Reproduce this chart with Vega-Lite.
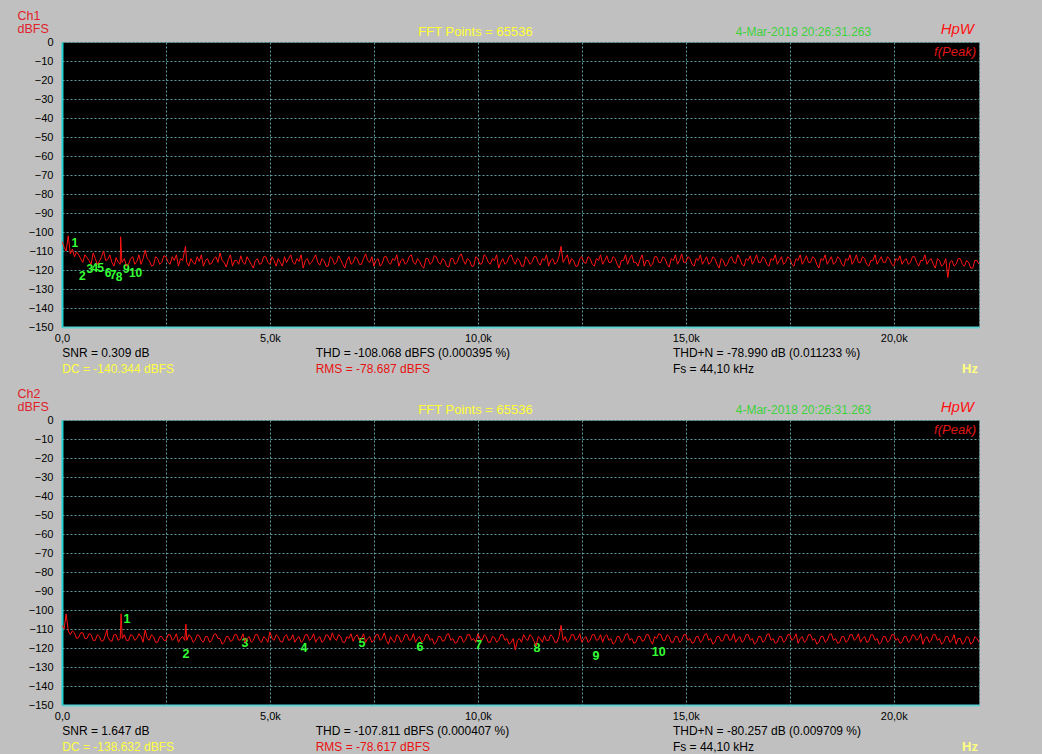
{
"$schema": "https://vega.github.io/schema/vega-lite/v6.json",
"background": "#c0c0c0",
"padding": {"left": 16, "top": 8, "right": 62, "bottom": 5},
"spacing": 93,
"bounds": "flush",
"datasets": {
"ch1": [{"f":0,"a":-105},{"f":50,"a":-108},{"f":100,"a":-110},{"f":150,"a":-102},{"f":200,"a":-111.5},{"f":250,"a":-109},{"f":300,"a":-113},{"f":350,"a":-110.5},{"f":400,"a":-112},{"f":450,"a":-114},{"f":500,"a":-116},{"f":550,"a":-112},{"f":600,"a":-113.5},{"f":650,"a":-115},{"f":700,"a":-117},{"f":750,"a":-111},{"f":800,"a":-114},{"f":850,"a":-117},{"f":900,"a":-115.5},{"f":950,"a":-113},
{"f":1000,"a":-110},{"f":1050,"a":-115},{"f":1100,"a":-114.5},{"f":1150,"a":-112},{"f":1200,"a":-116},{"f":1250,"a":-118},{"f":1300,"a":-113.5},{"f":1350,"a":-116},{"f":1400,"a":-117},{"f":1410,"a":-102.5},{"f":1440,"a":-116},{"f":1500,"a":-114},{"f":1550,"a":-118},{"f":1600,"a":-117},{"f":1650,"a":-114},{"f":1700,"a":-113},{"f":1750,"a":-117},{"f":1800,"a":-115.5},{"f":1850,"a":-112},{"f":1900,"a":-117},{"f":1950,"a":-114},
{"f":2000,"a":-109.5},{"f":2050,"a":-114},{"f":2100,"a":-115},{"f":2150,"a":-118},{"f":2200,"a":-117.5},{"f":2250,"a":-113},{"f":2300,"a":-114},{"f":2350,"a":-117},{"f":2400,"a":-116},{"f":2450,"a":-112.5},{"f":2500,"a":-113},{"f":2550,"a":-116},{"f":2600,"a":-117},{"f":2650,"a":-113},{"f":2700,"a":-115},{"f":2750,"a":-112},{"f":2800,"a":-118},{"f":2850,"a":-114},{"f":2900,"a":-115},{"f":2970,"a":-107.5},{"f":3000,"a":-116},{"f":3050,"a":-118},
{"f":3100,"a":-114},{"f":3150,"a":-116},{"f":3200,"a":-117},{"f":3250,"a":-113},{"f":3300,"a":-115.5},{"f":3350,"a":-112},{"f":3400,"a":-118},{"f":3450,"a":-115},{"f":3500,"a":-114},{"f":3550,"a":-117},{"f":3600,"a":-116.5},{"f":3650,"a":-114},{"f":3700,"a":-113},{"f":3750,"a":-116},{"f":3800,"a":-111},{"f":3850,"a":-115},{"f":3900,"a":-116},{"f":3950,"a":-118.5},
{"f":4000,"a":-114.5},{"f":4050,"a":-112},{"f":4100,"a":-118},{"f":4150,"a":-115},{"f":4200,"a":-115},{"f":4250,"a":-117},{"f":4300,"a":-112.5},{"f":4350,"a":-116},{"f":4400,"a":-117},{"f":4450,"a":-113},{"f":4500,"a":-115},{"f":4550,"a":-117},{"f":4600,"a":-119},{"f":4650,"a":-115},{"f":4700,"a":-114},{"f":4750,"a":-117},{"f":4800,"a":-116.5},{"f":4850,"a":-113},{"f":4900,"a":-113},{"f":4950,"a":-116},
{"f":5000,"a":-117},{"f":5050,"a":-113},{"f":5100,"a":-115},{"f":5150,"a":-118},{"f":5200,"a":-114},{"f":5250,"a":-116},{"f":5300,"a":-118},{"f":5350,"a":-113},{"f":5400,"a":-116},{"f":5450,"a":-114},{"f":5500,"a":-112},{"f":5550,"a":-116},{"f":5600,"a":-117},{"f":5650,"a":-114},{"f":5700,"a":-115.5},{"f":5750,"a":-112},{"f":5800,"a":-119},{"f":5850,"a":-115},{"f":5900,"a":-114},{"f":5950,"a":-117},
{"f":6000,"a":-116},{"f":6050,"a":-114},{"f":6100,"a":-112},{"f":6150,"a":-116},{"f":6200,"a":-117.5},{"f":6250,"a":-114},{"f":6300,"a":-115},{"f":6350,"a":-118},{"f":6400,"a":-118},{"f":6450,"a":-113},{"f":6500,"a":-114},{"f":6550,"a":-117},{"f":6600,"a":-116},{"f":6650,"a":-112.5},{"f":6700,"a":-114.5},{"f":6750,"a":-117},{"f":6800,"a":-119},{"f":6850,"a":-115},{"f":6900,"a":-113},{"f":6950,"a":-117},
{"f":7000,"a":-116},{"f":7050,"a":-113},{"f":7100,"a":-114},{"f":7150,"a":-117},{"f":7200,"a":-117},{"f":7250,"a":-114},{"f":7300,"a":-111.5},{"f":7350,"a":-115},{"f":7400,"a":-116},{"f":7450,"a":-113},{"f":7500,"a":-118},{"f":7550,"a":-115},{"f":7600,"a":-114},{"f":7650,"a":-118},{"f":7700,"a":-116.5},{"f":7750,"a":-113},{"f":7800,"a":-113},{"f":7850,"a":-116},{"f":7900,"a":-117},{"f":7950,"a":-114},
{"f":8000,"a":-115},{"f":8050,"a":-112},{"f":8100,"a":-118},{"f":8150,"a":-115},{"f":8200,"a":-114},{"f":8250,"a":-117},{"f":8300,"a":-116},{"f":8350,"a":-113},{"f":8400,"a":-112},{"f":8450,"a":-116},{"f":8500,"a":-117},{"f":8550,"a":-114},{"f":8600,"a":-115.5},{"f":8650,"a":-118},{"f":8700,"a":-119},{"f":8750,"a":-114},{"f":8800,"a":-114},{"f":8850,"a":-117},{"f":8900,"a":-116},{"f":8950,"a":-112.5},
{"f":9000,"a":-113},{"f":9050,"a":-116},{"f":9100,"a":-117},{"f":9150,"a":-114},{"f":9200,"a":-115},{"f":9250,"a":-118},{"f":9300,"a":-118.5},{"f":9350,"a":-114},{"f":9400,"a":-114},{"f":9450,"a":-117},{"f":9500,"a":-116},{"f":9550,"a":-113},{"f":9600,"a":-111.5},{"f":9650,"a":-115},{"f":9700,"a":-117},{"f":9750,"a":-114},{"f":9800,"a":-115},{"f":9850,"a":-118},{"f":9900,"a":-118},{"f":9950,"a":-113},
{"f":10000,"a":-114},{"f":10050,"a":-117},{"f":10100,"a":-116.5},{"f":10150,"a":-112},{"f":10200,"a":-113},{"f":10250,"a":-116},{"f":10300,"a":-117},{"f":10350,"a":-114},{"f":10400,"a":-115},{"f":10450,"a":-112},{"f":10500,"a":-119},{"f":10550,"a":-116},{"f":10600,"a":-114},{"f":10650,"a":-117},{"f":10700,"a":-116},{"f":10750,"a":-113},{"f":10800,"a":-112},{"f":10850,"a":-115},{"f":10900,"a":-117},{"f":10950,"a":-114},
{"f":11000,"a":-115},{"f":11050,"a":-118},{"f":11100,"a":-118},{"f":11150,"a":-113},{"f":11200,"a":-114.5},{"f":11250,"a":-117},{"f":11300,"a":-116},{"f":11350,"a":-113},{"f":11400,"a":-113},{"f":11450,"a":-116},{"f":11500,"a":-117.5},{"f":11550,"a":-114},{"f":11600,"a":-115},{"f":11650,"a":-112},{"f":11700,"a":-118},{"f":11750,"a":-115},{"f":11800,"a":-114},{"f":11850,"a":-117},{"f":11900,"a":-116},{"f":11950,"a":-113},
{"f":12000,"a":-107.5},{"f":12050,"a":-116},{"f":12100,"a":-114},{"f":12150,"a":-112},{"f":12200,"a":-117},{"f":12250,"a":-114},{"f":12300,"a":-115},{"f":12350,"a":-118},{"f":12400,"a":-118},{"f":12450,"a":-114},{"f":12500,"a":-113},{"f":12550,"a":-116},{"f":12600,"a":-116.5},{"f":12650,"a":-113},{"f":12700,"a":-114},{"f":12750,"a":-117},{"f":12800,"a":-118},{"f":12850,"a":-114},{"f":12900,"a":-115},{"f":12950,"a":-112},
{"f":13000,"a":-117},{"f":13050,"a":-115},{"f":13100,"a":-112.5},{"f":13150,"a":-116},{"f":13200,"a":-116},{"f":13250,"a":-113},{"f":13300,"a":-114},{"f":13350,"a":-117},{"f":13400,"a":-119},{"f":13450,"a":-115},{"f":13500,"a":-115},{"f":13550,"a":-112},{"f":13600,"a":-117},{"f":13650,"a":-114},{"f":13700,"a":-112},{"f":13750,"a":-116},{"f":13800,"a":-116},{"f":13850,"a":-118},{"f":13900,"a":-114.5},{"f":13950,"a":-112},
{"f":14000,"a":-118},{"f":14050,"a":-115},{"f":14100,"a":-115},{"f":14150,"a":-118},{"f":14200,"a":-117},{"f":14250,"a":-113},{"f":14300,"a":-113},{"f":14350,"a":-116},{"f":14400,"a":-116},{"f":14450,"a":-113},{"f":14500,"a":-114},{"f":14550,"a":-117},{"f":14600,"a":-118.5},{"f":14650,"a":-114},{"f":14700,"a":-115},{"f":14750,"a":-112},{"f":14800,"a":-117},{"f":14850,"a":-115},{"f":14900,"a":-111.5},{"f":14950,"a":-116},
{"f":15000,"a":-116},{"f":15050,"a":-113},{"f":15100,"a":-114},{"f":15150,"a":-117},{"f":15200,"a":-118},{"f":15250,"a":-114},{"f":15300,"a":-115},{"f":15350,"a":-112},{"f":15400,"a":-117},{"f":15450,"a":-115},{"f":15500,"a":-113},{"f":15550,"a":-117},{"f":15600,"a":-116},{"f":15650,"a":-113},{"f":15700,"a":-114},{"f":15750,"a":-117},{"f":15800,"a":-119},{"f":15850,"a":-114},{"f":15900,"a":-115},{"f":15950,"a":-118},
{"f":16000,"a":-117},{"f":16050,"a":-114},{"f":16100,"a":-113},{"f":16150,"a":-116},{"f":16200,"a":-116.5},{"f":16250,"a":-112},{"f":16300,"a":-114},{"f":16350,"a":-117},{"f":16400,"a":-118},{"f":16450,"a":-114},{"f":16500,"a":-115},{"f":16550,"a":-112.5},{"f":16600,"a":-117},{"f":16650,"a":-115},{"f":16700,"a":-112},{"f":16750,"a":-116},{"f":16800,"a":-116},{"f":16850,"a":-113},{"f":16900,"a":-114},{"f":16950,"a":-117},
{"f":17000,"a":-118},{"f":17050,"a":-114},{"f":17100,"a":-115},{"f":17150,"a":-112},{"f":17200,"a":-117},{"f":17250,"a":-115},{"f":17300,"a":-113},{"f":17350,"a":-117},{"f":17400,"a":-116},{"f":17450,"a":-113},{"f":17500,"a":-114},{"f":17550,"a":-117},{"f":17600,"a":-118},{"f":17650,"a":-114},{"f":17700,"a":-115},{"f":17750,"a":-112},{"f":17800,"a":-117},{"f":17850,"a":-115},{"f":17900,"a":-112.5},{"f":17950,"a":-116},
{"f":18000,"a":-116},{"f":18050,"a":-113},{"f":18100,"a":-114},{"f":18150,"a":-117},{"f":18200,"a":-119},{"f":18250,"a":-114},{"f":18300,"a":-115},{"f":18350,"a":-112},{"f":18400,"a":-117},{"f":18450,"a":-115},{"f":18500,"a":-113},{"f":18550,"a":-117},{"f":18600,"a":-116},{"f":18650,"a":-113},{"f":18700,"a":-114},{"f":18750,"a":-117},{"f":18800,"a":-118},{"f":18850,"a":-114},{"f":18900,"a":-115},{"f":18950,"a":-112},
{"f":19000,"a":-117},{"f":19050,"a":-115},{"f":19100,"a":-112},{"f":19150,"a":-116},{"f":19200,"a":-116},{"f":19250,"a":-113},{"f":19300,"a":-114},{"f":19350,"a":-117},{"f":19400,"a":-118},{"f":19450,"a":-115},{"f":19500,"a":-115},{"f":19550,"a":-112},{"f":19600,"a":-117},{"f":19650,"a":-115},{"f":19700,"a":-113},{"f":19750,"a":-116},{"f":19800,"a":-116},{"f":19850,"a":-113},{"f":19900,"a":-114},{"f":19950,"a":-117},
{"f":20000,"a":-118},{"f":20050,"a":-114},{"f":20100,"a":-115},{"f":20150,"a":-112.5},{"f":20200,"a":-117},{"f":20250,"a":-115},{"f":20300,"a":-114},{"f":20350,"a":-117},{"f":20400,"a":-116},{"f":20450,"a":-113},{"f":20500,"a":-113},{"f":20550,"a":-116},{"f":20600,"a":-118},{"f":20650,"a":-115},{"f":20700,"a":-115},{"f":20750,"a":-112},{"f":20800,"a":-117},{"f":20850,"a":-115},{"f":20900,"a":-114},{"f":20950,"a":-117},
{"f":21000,"a":-119},{"f":21050,"a":-114},{"f":21100,"a":-115},{"f":21150,"a":-118},{"f":21200,"a":-117},{"f":21250,"a":-114},{"f":21300,"a":-124},{"f":21350,"a":-116},{"f":21400,"a":-115},{"f":21450,"a":-118},{"f":21500,"a":-117},{"f":21550,"a":-114},{"f":21600,"a":-114},{"f":21650,"a":-117},{"f":21700,"a":-118},{"f":21750,"a":-115},{"f":21800,"a":-116},{"f":21850,"a":-119},{"f":21900,"a":-119},{"f":21950,"a":-115},
{"f":22000,"a":-115},{"f":22050,"a":-117}],
"ch2": [{"f":0,"a":-108},{"f":50,"a":-110},{"f":100,"a":-102},{"f":150,"a":-111},{"f":200,"a":-113},{"f":250,"a":-111},{"f":300,"a":-112},{"f":350,"a":-115},{"f":400,"a":-114.5},{"f":450,"a":-112},{"f":500,"a":-112},{"f":550,"a":-115},{"f":600,"a":-115},{"f":650,"a":-112.5},{"f":700,"a":-113},{"f":750,"a":-116},{"f":800,"a":-116},{"f":850,"a":-113},{"f":900,"a":-114},{"f":950,"a":-116.5},
{"f":1000,"a":-116},{"f":1080,"a":-110.5},{"f":1100,"a":-114},{"f":1150,"a":-116},{"f":1200,"a":-116.5},{"f":1250,"a":-113},{"f":1300,"a":-113},{"f":1350,"a":-116},{"f":1400,"a":-115},{"f":1420,"a":-102},{"f":1450,"a":-115},{"f":1500,"a":-113},{"f":1550,"a":-116},{"f":1600,"a":-116},{"f":1650,"a":-113},{"f":1700,"a":-113.5},{"f":1750,"a":-116},{"f":1800,"a":-115},{"f":1850,"a":-112.5},{"f":1900,"a":-114},{"f":1950,"a":-117},
{"f":2000,"a":-110.5},{"f":2050,"a":-115},{"f":2100,"a":-116},{"f":2150,"a":-113},{"f":2200,"a":-114},{"f":2250,"a":-117},{"f":2300,"a":-117},{"f":2350,"a":-114},{"f":2400,"a":-114},{"f":2450,"a":-116},{"f":2500,"a":-116},{"f":2550,"a":-113},{"f":2600,"a":-113},{"f":2650,"a":-116},{"f":2700,"a":-115},{"f":2750,"a":-112.5},{"f":2800,"a":-117},{"f":2850,"a":-115},{"f":2900,"a":-114},{"f":2950,"a":-116},{"f":2980,"a":-107.5},{"f":3000,"a":-116},{"f":3050,"a":-113},
{"f":3100,"a":-114},{"f":3150,"a":-117},{"f":3200,"a":-116},{"f":3250,"a":-113},{"f":3300,"a":-113.5},{"f":3350,"a":-116},{"f":3400,"a":-117},{"f":3450,"a":-114},{"f":3500,"a":-114},{"f":3550,"a":-117},{"f":3600,"a":-116},{"f":3650,"a":-113},{"f":3700,"a":-112.5},{"f":3750,"a":-115},{"f":3800,"a":-115},{"f":3850,"a":-118},{"f":3900,"a":-117},{"f":3950,"a":-114},
{"f":4000,"a":-114},{"f":4050,"a":-116.5},{"f":4100,"a":-116},{"f":4150,"a":-113},{"f":4200,"a":-113},{"f":4250,"a":-116},{"f":4300,"a":-115.5},{"f":4350,"a":-112.5},{"f":4400,"a":-117},{"f":4450,"a":-115},{"f":4500,"a":-114},{"f":4550,"a":-117},{"f":4600,"a":-116},{"f":4650,"a":-113},{"f":4700,"a":-113},{"f":4750,"a":-116},{"f":4800,"a":-117},{"f":4850,"a":-114},{"f":4900,"a":-115},{"f":4950,"a":-117},
{"f":5000,"a":-111.5},{"f":5050,"a":-115},{"f":5100,"a":-116},{"f":5150,"a":-113},{"f":5200,"a":-114},{"f":5250,"a":-116.5},{"f":5300,"a":-117},{"f":5350,"a":-114},{"f":5400,"a":-113},{"f":5450,"a":-116},{"f":5500,"a":-115.5},{"f":5550,"a":-113},{"f":5600,"a":-117},{"f":5650,"a":-115},{"f":5700,"a":-114},{"f":5750,"a":-117},{"f":5800,"a":-116},{"f":5850,"a":-113},{"f":5900,"a":-113},{"f":5950,"a":-116},
{"f":6000,"a":-115},{"f":6050,"a":-112.5},{"f":6100,"a":-117},{"f":6150,"a":-115},{"f":6200,"a":-114},{"f":6250,"a":-117},{"f":6300,"a":-116},{"f":6350,"a":-113},{"f":6400,"a":-113.5},{"f":6450,"a":-116},{"f":6500,"a":-112},{"f":6550,"a":-115},{"f":6600,"a":-116},{"f":6650,"a":-113},{"f":6700,"a":-114},{"f":6750,"a":-117},{"f":6800,"a":-117},{"f":6850,"a":-114},{"f":6900,"a":-115},{"f":6950,"a":-112.5},
{"f":7000,"a":-116.5},{"f":7050,"a":-114},{"f":7100,"a":-113},{"f":7150,"a":-116},{"f":7200,"a":-115},{"f":7250,"a":-112.5},{"f":7300,"a":-117},{"f":7350,"a":-115},{"f":7400,"a":-114},{"f":7450,"a":-117},{"f":7500,"a":-116},{"f":7550,"a":-113},{"f":7600,"a":-113},{"f":7650,"a":-116},{"f":7700,"a":-115},{"f":7750,"a":-112},{"f":7800,"a":-116},{"f":7850,"a":-118},{"f":7900,"a":-114},{"f":7950,"a":-116},
{"f":8000,"a":-117},{"f":8050,"a":-113},{"f":8100,"a":-114},{"f":8150,"a":-117},{"f":8200,"a":-116},{"f":8250,"a":-113},{"f":8300,"a":-113},{"f":8350,"a":-116},{"f":8400,"a":-115.5},{"f":8450,"a":-112.5},{"f":8500,"a":-117},{"f":8550,"a":-115},{"f":8600,"a":-114},{"f":8650,"a":-117},{"f":8700,"a":-116},{"f":8750,"a":-113},{"f":8800,"a":-113},{"f":8850,"a":-116},{"f":8900,"a":-115},{"f":8950,"a":-118},
{"f":9000,"a":-117},{"f":9050,"a":-114},{"f":9100,"a":-114},{"f":9150,"a":-116.5},{"f":9200,"a":-116},{"f":9250,"a":-113},{"f":9300,"a":-112.5},{"f":9350,"a":-116},{"f":9400,"a":-115},{"f":9450,"a":-117.5},{"f":9500,"a":-117},{"f":9550,"a":-114},{"f":9600,"a":-114},{"f":9650,"a":-117},{"f":9700,"a":-116},{"f":9750,"a":-113},{"f":9800,"a":-113},{"f":9850,"a":-116},{"f":9900,"a":-115},{"f":9950,"a":-117},
{"f":10000,"a":-112.5},{"f":10050,"a":-115},{"f":10100,"a":-116},{"f":10150,"a":-113},{"f":10200,"a":-114},{"f":10250,"a":-117},{"f":10300,"a":-117},{"f":10350,"a":-114},{"f":10400,"a":-114.5},{"f":10450,"a":-117},{"f":10500,"a":-116},{"f":10550,"a":-113},{"f":10600,"a":-113},{"f":10650,"a":-116},{"f":10700,"a":-115},{"f":10750,"a":-118},{"f":10800,"a":-117},{"f":10850,"a":-115},{"f":10900,"a":-121},{"f":10950,"a":-116},
{"f":11000,"a":-115},{"f":11050,"a":-117},{"f":11100,"a":-113},{"f":11150,"a":-115},{"f":11200,"a":-116},{"f":11250,"a":-113},{"f":11300,"a":-114},{"f":11350,"a":-116.5},{"f":11400,"a":-119},{"f":11450,"a":-114},{"f":11500,"a":-115},{"f":11550,"a":-117},{"f":11600,"a":-113.5},{"f":11650,"a":-116},{"f":11700,"a":-116},{"f":11750,"a":-113},{"f":11800,"a":-114},{"f":11850,"a":-117},{"f":11900,"a":-117},{"f":11950,"a":-114},
{"f":12000,"a":-108},{"f":12050,"a":-116},{"f":12100,"a":-114},{"f":12150,"a":-117},{"f":12200,"a":-116},{"f":12250,"a":-113},{"f":12300,"a":-113},{"f":12350,"a":-116},{"f":12400,"a":-115},{"f":12450,"a":-112.5},{"f":12500,"a":-117},{"f":12550,"a":-115},{"f":12600,"a":-114},{"f":12650,"a":-117},{"f":12700,"a":-116},{"f":12750,"a":-113},{"f":12800,"a":-113},{"f":12850,"a":-116},{"f":12900,"a":-115.5},{"f":12950,"a":-113},
{"f":13000,"a":-117},{"f":13050,"a":-114},{"f":13100,"a":-113},{"f":13150,"a":-116},{"f":13200,"a":-115},{"f":13250,"a":-118},{"f":13300,"a":-117},{"f":13350,"a":-114},{"f":13400,"a":-114},{"f":13450,"a":-117},{"f":13500,"a":-116},{"f":13550,"a":-113},{"f":13600,"a":-112.5},{"f":13650,"a":-116},{"f":13700,"a":-115},{"f":13750,"a":-117.5},{"f":13800,"a":-117},{"f":13850,"a":-114},{"f":13900,"a":-114},{"f":13950,"a":-116.5},
{"f":14000,"a":-116},{"f":14050,"a":-113},{"f":14100,"a":-113},{"f":14150,"a":-116},{"f":14200,"a":-118},{"f":14250,"a":-114},{"f":14300,"a":-115},{"f":14350,"a":-112.5},{"f":14400,"a":-113},{"f":14450,"a":-116},{"f":14500,"a":-116},{"f":14550,"a":-113},{"f":14600,"a":-114},{"f":14650,"a":-117},{"f":14700,"a":-117},{"f":14750,"a":-114},{"f":14800,"a":-114},{"f":14850,"a":-117},{"f":14900,"a":-116},{"f":14950,"a":-113},
{"f":15000,"a":-113},{"f":15050,"a":-116},{"f":15100,"a":-115},{"f":15150,"a":-117.5},{"f":15200,"a":-117},{"f":15250,"a":-114},{"f":15300,"a":-114},{"f":15350,"a":-117},{"f":15400,"a":-116},{"f":15450,"a":-113},{"f":15500,"a":-112.5},{"f":15550,"a":-116},{"f":15600,"a":-115},{"f":15650,"a":-118},{"f":15700,"a":-117},{"f":15750,"a":-114},{"f":15800,"a":-114},{"f":15850,"a":-116.5},{"f":15900,"a":-116},{"f":15950,"a":-113},
{"f":16000,"a":-113},{"f":16050,"a":-116},{"f":16100,"a":-115.5},{"f":16150,"a":-112.5},{"f":16200,"a":-117},{"f":16250,"a":-115},{"f":16300,"a":-114},{"f":16350,"a":-117},{"f":16400,"a":-116},{"f":16450,"a":-113},{"f":16500,"a":-113},{"f":16550,"a":-116},{"f":16600,"a":-115},{"f":16650,"a":-118},{"f":16700,"a":-117},{"f":16750,"a":-114},{"f":16800,"a":-114},{"f":16850,"a":-117},{"f":16900,"a":-116},{"f":16950,"a":-113},
{"f":17000,"a":-112.5},{"f":17050,"a":-116},{"f":17100,"a":-115},{"f":17150,"a":-117.5},{"f":17200,"a":-117},{"f":17250,"a":-114},{"f":17300,"a":-114},{"f":17350,"a":-117},{"f":17400,"a":-116},{"f":17450,"a":-113},{"f":17500,"a":-113},{"f":17550,"a":-116},{"f":17600,"a":-115},{"f":17650,"a":-112.5},{"f":17700,"a":-117.5},{"f":17750,"a":-115},{"f":17800,"a":-114},{"f":17850,"a":-117},{"f":17900,"a":-116},{"f":17950,"a":-113},
{"f":18000,"a":-113},{"f":18050,"a":-116},{"f":18100,"a":-115},{"f":18150,"a":-118},{"f":18200,"a":-117},{"f":18250,"a":-114},{"f":18300,"a":-114},{"f":18350,"a":-117},{"f":18400,"a":-116},{"f":18450,"a":-113},{"f":18500,"a":-112.5},{"f":18550,"a":-116},{"f":18600,"a":-115},{"f":18650,"a":-117.5},{"f":18700,"a":-117},{"f":18750,"a":-114},{"f":18800,"a":-114},{"f":18850,"a":-117},{"f":18900,"a":-116},{"f":18950,"a":-113},
{"f":19000,"a":-113},{"f":19050,"a":-116},{"f":19100,"a":-115},{"f":19150,"a":-112.5},{"f":19200,"a":-117},{"f":19250,"a":-115},{"f":19300,"a":-114},{"f":19350,"a":-117},{"f":19400,"a":-116.5},{"f":19450,"a":-113},{"f":19500,"a":-113},{"f":19550,"a":-116},{"f":19600,"a":-115},{"f":19650,"a":-118},{"f":19700,"a":-117},{"f":19750,"a":-114},{"f":19800,"a":-114},{"f":19850,"a":-117},{"f":19900,"a":-116},{"f":19950,"a":-113},
{"f":20000,"a":-113},{"f":20050,"a":-116},{"f":20100,"a":-115},{"f":20150,"a":-117.5},{"f":20200,"a":-117},{"f":20250,"a":-114},{"f":20300,"a":-114},{"f":20350,"a":-117},{"f":20400,"a":-116},{"f":20450,"a":-113},{"f":20500,"a":-113.5},{"f":20550,"a":-116},{"f":20600,"a":-115},{"f":20650,"a":-112.5},{"f":20700,"a":-118},{"f":20750,"a":-115},{"f":20800,"a":-114},{"f":20850,"a":-117},{"f":20900,"a":-116},{"f":20950,"a":-113},
{"f":21000,"a":-113},{"f":21050,"a":-116},{"f":21100,"a":-115},{"f":21150,"a":-118},{"f":21200,"a":-117},{"f":21250,"a":-114},{"f":21300,"a":-114},{"f":21350,"a":-117},{"f":21400,"a":-116},{"f":21450,"a":-113},{"f":21500,"a":-118},{"f":21550,"a":-115},{"f":21600,"a":-115},{"f":21650,"a":-118},{"f":21700,"a":-117},{"f":21750,"a":-114},{"f":21800,"a":-114.5},{"f":21850,"a":-118},{"f":21900,"a":-117},{"f":21950,"a":-114},
{"f":22000,"a":-115},{"f":22050,"a":-117}],
"h1": [{"n":"1","f":310,"a":-105.6},{"n":"2","f":490,"a":-123.2},{"n":"3","f":670,"a":-119.5},{"n":"4","f":790,"a":-119.1},{"n":"5","f":930,"a":-119.1},{"n":"6","f":1110,"a":-121.6},{"n":"7","f":1230,"a":-122.6},{"n":"8","f":1370,"a":-123.5},{"n":"9","f":1550,"a":-119.5},{"n":"10","f":1770,"a":-121.4}],
"h2": [{"n":"1","f":1560,"a":-104.7},{"n":"2","f":2980,"a":-123.2},{"n":"3","f":4400,"a":-117.4},{"n":"4","f":5820,"a":-120},{"n":"5","f":7210,"a":-117.4},{"n":"6","f":8610,"a":-119.5},{"n":"7","f":10020,"a":-118.4},{"n":"8","f":11420,"a":-120},{"n":"9","f":12840,"a":-124.2},{"n":"10","f":14350,"a":-122.1}]
},
"vconcat": [
{
"width": 917, "height": 285,
"layer": [
{"data": {"name": "h1"}, "mark": {"type": "text", "fontSize": 12, "fontWeight": "bold", "color": "#33ff33", "align": "center", "baseline": "middle"},
 "encoding": {"x": {"field": "f", "type": "quantitative"}, "y": {"field": "a", "type": "quantitative"}, "text": {"field": "n"}}},
{"data": {"name": "ch1"}, "mark": {"type": "line", "color": "#ff1414", "strokeWidth": 1, "clip": true},
 "encoding": {
  "x": {"field": "f", "type": "quantitative", "scale": {"domain": [0, 22050], "nice": false, "zero": false},
        "axis": {"title": null, "labelOverlap": false, "tickCount": 30, "values": [0,2500,5000,7500,10000,12500,15000,17500,20000], "labelExpr": "datum.value == 0 ? '0,0' : (datum.value % 5000 == 0 ? replace(format(datum.value / 1000, '.1f'), '.', ',') + 'k' : '')"}},
  "y": {"field": "a", "type": "quantitative", "scale": {"domain": [-150, 0], "nice": false, "zero": false},
        "axis": {"labelOverlap": false, "tickCount": 30, "values": [0,-10,-20,-30,-40,-50,-60,-70,-80,-90,-100,-110,-120,-130,-140,-150], "title": ["Ch1", "dBFS"], "titleAngle": 0, "titleAlign": "left", "titleBaseline": "alphabetic", "titleX": -45, "titleY": -23, "titleColor": "#e0202a", "titleFontSize": 12.5, "titleFontWeight": "normal", "titleLineHeight": 13}}}},
{"data": {"values": [{"t": "FFT Points = 65536"}]}, "mark": {"type": "text", "align": "center", "baseline": "alphabetic", "fontSize": 13, "color": "#ffff33"},
 "encoding": {"x": {"datum": 9943, "type": "quantitative"}, "y": {"datum": 2.9, "type": "quantitative"}, "text": {"field": "t"}}},
{"data": {"values": [{"t": "4-Mar-2018 20:26:31.263"}]}, "mark": {"type": "text", "align": "center", "baseline": "alphabetic", "fontSize": 12, "color": "#3cd23c"},
 "encoding": {"x": {"datum": 17830, "type": "quantitative"}, "y": {"datum": 2.9, "type": "quantitative"}, "text": {"field": "t"}}},
{"data": {"values": [{"t": "HpW"}]}, "mark": {"type": "text", "align": "right", "baseline": "alphabetic", "fontSize": 15, "fontStyle": "italic", "color": "#ff1111"},
 "encoding": {"x": {"datum": 21930, "type": "quantitative"}, "y": {"datum": 4.2, "type": "quantitative"}, "text": {"field": "t"}}},
{"data": {"values": [{"t": "f(Peak)"}]}, "mark": {"type": "text", "align": "right", "baseline": "alphabetic", "fontSize": 13, "fontStyle": "italic", "color": "#e01515"},
 "encoding": {"x": {"datum": 21978, "type": "quantitative"}, "y": {"datum": -7.6, "type": "quantitative"}, "text": {"field": "t"}}},
{"data": {"values": [{"t": "SNR = 0.309 dB"}]}, "mark": {"type": "text", "align": "left", "baseline": "alphabetic", "fontSize": 12, "color": "#000000"},
 "encoding": {"x": {"datum": 8, "type": "quantitative"}, "y": {"datum": -165.8, "type": "quantitative"}, "text": {"field": "t"}}},
{"data": {"values": [{"t": "THD = -108.068 dBFS (0.000395 %)"}]}, "mark": {"type": "text", "align": "left", "baseline": "alphabetic", "fontSize": 12, "color": "#000000"},
 "encoding": {"x": {"datum": 6100, "type": "quantitative"}, "y": {"datum": -165.8, "type": "quantitative"}, "text": {"field": "t"}}},
{"data": {"values": [{"t": "THD+N = -78.990 dB (0.011233 %)"}]}, "mark": {"type": "text", "align": "left", "baseline": "alphabetic", "fontSize": 12, "color": "#000000"},
 "encoding": {"x": {"datum": 14690, "type": "quantitative"}, "y": {"datum": -165.8, "type": "quantitative"}, "text": {"field": "t"}}},
{"data": {"values": [{"t": "DC = -140.344 dBFS"}]}, "mark": {"type": "text", "align": "left", "baseline": "alphabetic", "fontSize": 12, "color": "#ffff40"},
 "encoding": {"x": {"datum": 8, "type": "quantitative"}, "y": {"datum": -174.2, "type": "quantitative"}, "text": {"field": "t"}}},
{"data": {"values": [{"t": "RMS = -78.687 dBFS"}]}, "mark": {"type": "text", "align": "left", "baseline": "alphabetic", "fontSize": 12, "color": "#e81010"},
 "encoding": {"x": {"datum": 6100, "type": "quantitative"}, "y": {"datum": -174.2, "type": "quantitative"}, "text": {"field": "t"}}},
{"data": {"values": [{"t": "Fs = 44,10 kHz"}]}, "mark": {"type": "text", "align": "left", "baseline": "alphabetic", "fontSize": 12, "color": "#000000"},
 "encoding": {"x": {"datum": 14690, "type": "quantitative"}, "y": {"datum": -174.2, "type": "quantitative"}, "text": {"field": "t"}}},
{"data": {"values": [{"t": "Hz"}]}, "mark": {"type": "text", "align": "center", "baseline": "alphabetic", "fontSize": 13, "fontWeight": "bold", "color": "#ffff80"},
 "encoding": {"x": {"datum": 21834, "type": "quantitative"}, "y": {"datum": -174.2, "type": "quantitative"}, "text": {"field": "t"}}}
]
},
{
"width": 917, "height": 285,
"layer": [
{"data": {"name": "h2"}, "mark": {"type": "text", "fontSize": 12.5, "fontWeight": "bold", "color": "#33ff33", "align": "center", "baseline": "middle"},
 "encoding": {"x": {"field": "f", "type": "quantitative"}, "y": {"field": "a", "type": "quantitative"}, "text": {"field": "n"}}},
{"data": {"name": "ch2"}, "mark": {"type": "line", "color": "#ff1414", "strokeWidth": 1, "clip": true},
 "encoding": {
  "x": {"field": "f", "type": "quantitative", "scale": {"domain": [0, 22050], "nice": false, "zero": false},
        "axis": {"title": null, "labelOverlap": false, "tickCount": 30, "values": [0,2500,5000,7500,10000,12500,15000,17500,20000], "labelExpr": "datum.value == 0 ? '0,0' : (datum.value % 5000 == 0 ? replace(format(datum.value / 1000, '.1f'), '.', ',') + 'k' : '')"}},
  "y": {"field": "a", "type": "quantitative", "scale": {"domain": [-150, 0], "nice": false, "zero": false},
        "axis": {"labelOverlap": false, "tickCount": 30, "values": [0,-10,-20,-30,-40,-50,-60,-70,-80,-90,-100,-110,-120,-130,-140,-150], "title": ["Ch2", "dBFS"], "titleAngle": 0, "titleAlign": "left", "titleBaseline": "alphabetic", "titleX": -45, "titleY": -23, "titleColor": "#e0202a", "titleFontSize": 12.5, "titleFontWeight": "normal", "titleLineHeight": 13}}}},
{"data": {"values": [{"t": "FFT Points = 65536"}]}, "mark": {"type": "text", "align": "center", "baseline": "alphabetic", "fontSize": 13, "color": "#ffff33"},
 "encoding": {"x": {"datum": 9943, "type": "quantitative"}, "y": {"datum": 2.9, "type": "quantitative"}, "text": {"field": "t"}}},
{"data": {"values": [{"t": "4-Mar-2018 20:26:31.263"}]}, "mark": {"type": "text", "align": "center", "baseline": "alphabetic", "fontSize": 12, "color": "#3cd23c"},
 "encoding": {"x": {"datum": 17830, "type": "quantitative"}, "y": {"datum": 2.9, "type": "quantitative"}, "text": {"field": "t"}}},
{"data": {"values": [{"t": "HpW"}]}, "mark": {"type": "text", "align": "right", "baseline": "alphabetic", "fontSize": 15, "fontStyle": "italic", "color": "#ff1111"},
 "encoding": {"x": {"datum": 21930, "type": "quantitative"}, "y": {"datum": 4.2, "type": "quantitative"}, "text": {"field": "t"}}},
{"data": {"values": [{"t": "f(Peak)"}]}, "mark": {"type": "text", "align": "right", "baseline": "alphabetic", "fontSize": 13, "fontStyle": "italic", "color": "#e01515"},
 "encoding": {"x": {"datum": 21978, "type": "quantitative"}, "y": {"datum": -7.6, "type": "quantitative"}, "text": {"field": "t"}}},
{"data": {"values": [{"t": "SNR = 1.647 dB"}]}, "mark": {"type": "text", "align": "left", "baseline": "alphabetic", "fontSize": 12, "color": "#000000"},
 "encoding": {"x": {"datum": 8, "type": "quantitative"}, "y": {"datum": -165.8, "type": "quantitative"}, "text": {"field": "t"}}},
{"data": {"values": [{"t": "THD = -107.811 dBFS (0.000407 %)"}]}, "mark": {"type": "text", "align": "left", "baseline": "alphabetic", "fontSize": 12, "color": "#000000"},
 "encoding": {"x": {"datum": 6100, "type": "quantitative"}, "y": {"datum": -165.8, "type": "quantitative"}, "text": {"field": "t"}}},
{"data": {"values": [{"t": "THD+N = -80.257 dB (0.009709 %)"}]}, "mark": {"type": "text", "align": "left", "baseline": "alphabetic", "fontSize": 12, "color": "#000000"},
 "encoding": {"x": {"datum": 14690, "type": "quantitative"}, "y": {"datum": -165.8, "type": "quantitative"}, "text": {"field": "t"}}},
{"data": {"values": [{"t": "DC = -138.632 dBFS"}]}, "mark": {"type": "text", "align": "left", "baseline": "alphabetic", "fontSize": 12, "color": "#ffff40"},
 "encoding": {"x": {"datum": 8, "type": "quantitative"}, "y": {"datum": -174.2, "type": "quantitative"}, "text": {"field": "t"}}},
{"data": {"values": [{"t": "RMS = -78.617 dBFS"}]}, "mark": {"type": "text", "align": "left", "baseline": "alphabetic", "fontSize": 12, "color": "#e81010"},
 "encoding": {"x": {"datum": 6100, "type": "quantitative"}, "y": {"datum": -174.2, "type": "quantitative"}, "text": {"field": "t"}}},
{"data": {"values": [{"t": "Fs = 44,10 kHz"}]}, "mark": {"type": "text", "align": "left", "baseline": "alphabetic", "fontSize": 12, "color": "#000000"},
 "encoding": {"x": {"datum": 14690, "type": "quantitative"}, "y": {"datum": -174.2, "type": "quantitative"}, "text": {"field": "t"}}},
{"data": {"values": [{"t": "Hz"}]}, "mark": {"type": "text", "align": "center", "baseline": "alphabetic", "fontSize": 13, "fontWeight": "bold", "color": "#ffff80"},
 "encoding": {"x": {"datum": 21834, "type": "quantitative"}, "y": {"datum": -174.2, "type": "quantitative"}, "text": {"field": "t"}}}
]
}
],
"config": {
  "font": "Liberation Sans",
  "view": {"fill": "#000000", "stroke": "#5f9ea0", "strokeDash": [2, 2], "strokeWidth": 1},
  "text": {"font": "Liberation Sans"},
  "axis": {"labelFont": "Liberation Sans", "titleFont": "Liberation Sans", "labelFontSize": 11, "labelColor": "#000000", "ticks": false, "grid": true, "gridColor": "#5f9ea0", "gridDash": [2, 2], "gridWidth": 1, "gridOpacity": 1, "domainWidth": 2, "labelFlush": false, "labelOverlap": false},
  "axisX": {"domainColor": "#5fd3d3", "labelPadding": 5},
  "axisY": {"domainColor": "#22d0d0", "labelPadding": 9}
}
}
